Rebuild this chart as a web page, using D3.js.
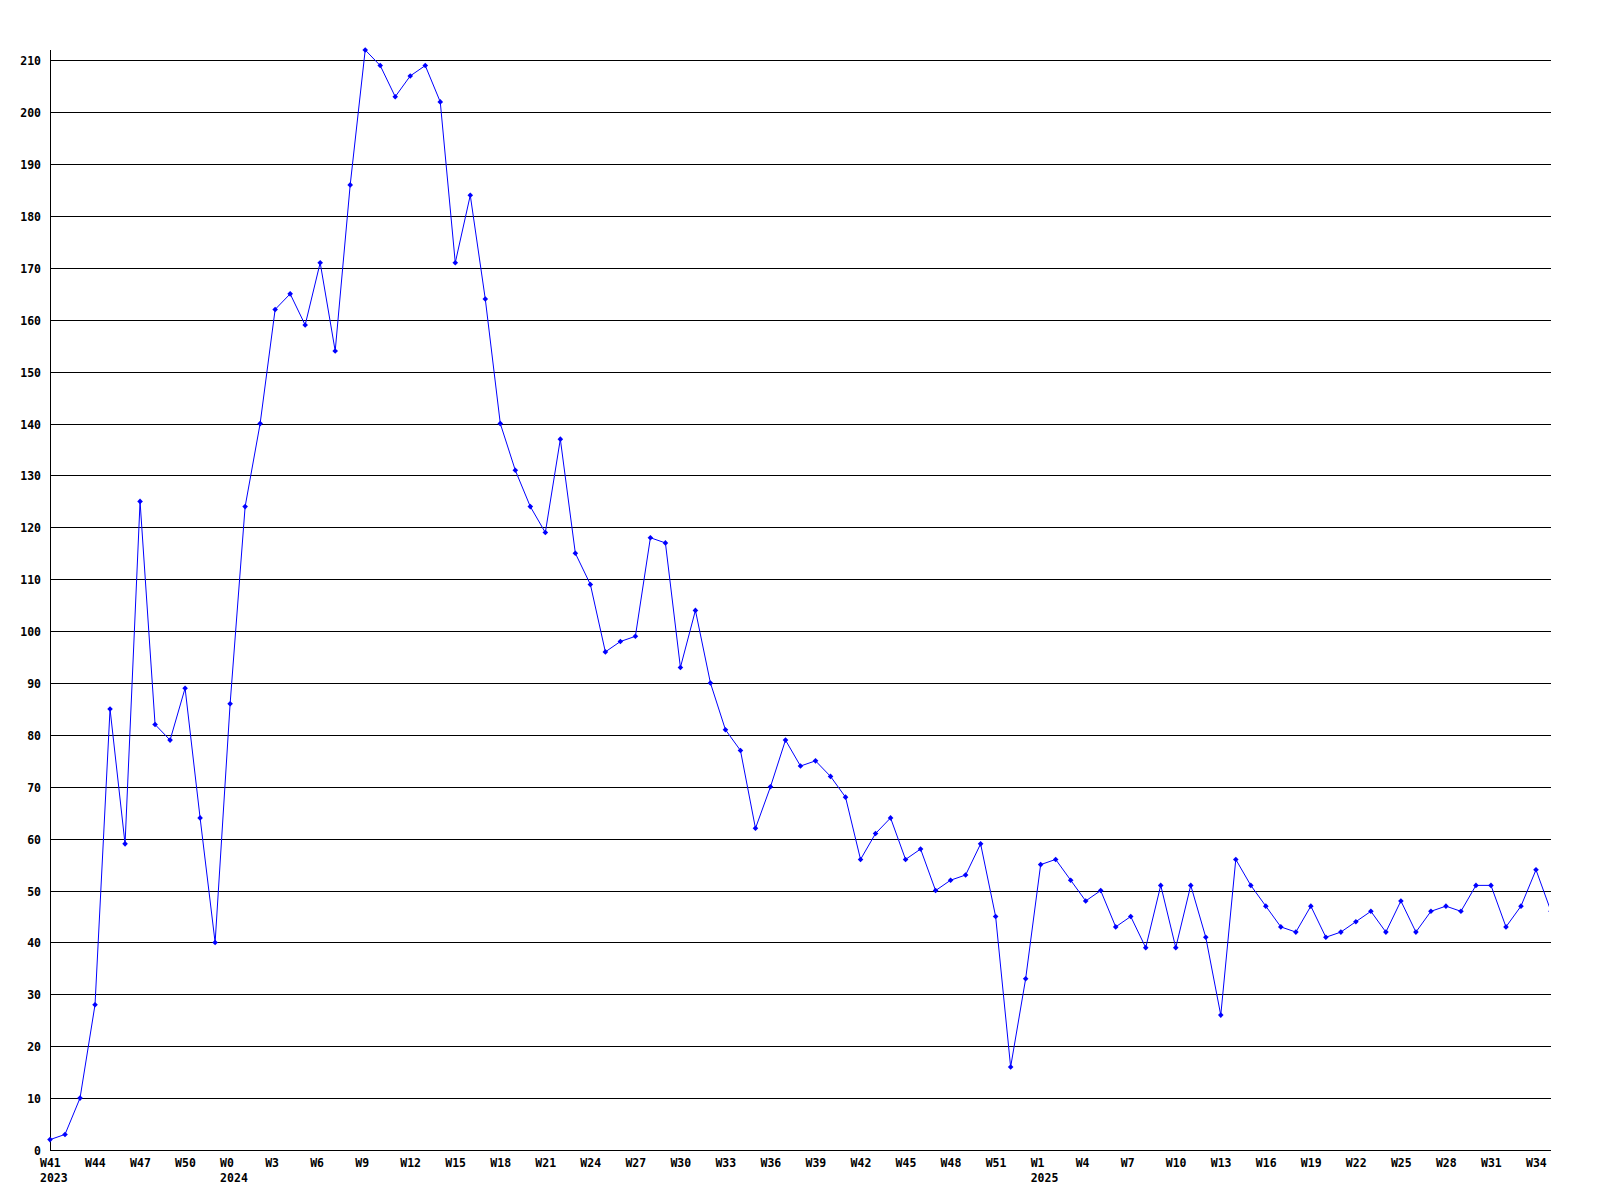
<!DOCTYPE html>
<html>
<head>
<meta charset="utf-8">
<script src="https://cdn.jsdelivr.net/npm/d3@7"></script>
<style>
  html, body { margin: 0; padding: 0; background: #fff; }
  svg { display: block; }
  text { font-family: "DejaVu Sans Mono", "Liberation Mono", monospace; font-weight: bold; font-size: 11.5px; fill: #000; }
</style>
</head>
<body>
<svg id="chart" width="1600" height="1200"></svg>
<script>
// ---- data ----
const categories = [
  "2023 W41","2023 W42","2023 W43","2023 W44","2023 W45","2023 W46","2023 W47","2023 W48","2023 W49","2023 W50","2023 W51","2023 W52",
  "2024 W0","2024 W1","2024 W2","2024 W3","2024 W4","2024 W5","2024 W6","2024 W7","2024 W8","2024 W9","2024 W10","2024 W11","2024 W12",
  "2024 W13","2024 W14","2024 W15","2024 W16","2024 W17","2024 W18","2024 W19","2024 W20","2024 W21","2024 W22","2024 W23","2024 W24",
  "2024 W25","2024 W26","2024 W27","2024 W28","2024 W29","2024 W30","2024 W31","2024 W32","2024 W33","2024 W34","2024 W35","2024 W36",
  "2024 W37","2024 W38","2024 W39","2024 W40","2024 W41","2024 W42","2024 W43","2024 W44","2024 W45","2024 W46","2024 W47","2024 W48",
  "2024 W49","2024 W50","2024 W51","2024 W52",
  "2025 W0","2025 W1","2025 W2","2025 W3","2025 W4","2025 W5","2025 W6","2025 W7","2025 W8","2025 W9","2025 W10","2025 W11","2025 W12",
  "2025 W13","2025 W14","2025 W15","2025 W16","2025 W17","2025 W18","2025 W19","2025 W20","2025 W21","2025 W22","2025 W23","2025 W24",
  "2025 W25","2025 W26","2025 W27","2025 W28","2025 W29","2025 W30","2025 W31","2025 W32","2025 W33","2025 W34","2025 W35"
];
const values = [
  2,3,10,28,85,59,125,82,79,89,
  64,40,86,124,140,162,165,159,171,154,
  186,212,209,203,207,209,202,171,184,164,
  140,131,124,119,137,115,109,96,98,99,
  118,117,93,104,90,81,77,62,70,79,
  74,75,72,68,56,61,64,56,58,50,
  52,53,59,45,16,33,55,56,52,48,
  50,43,45,39,51,39,51,41,26,56,
  51,47,43,42,47,41,42,44,46,42,
  48,42,46,47,46,51,51,43,47,54,
  46
];
const xTickCategories = [
  "2023 W41","2023 W44","2023 W47","2023 W50",
  "2024 W0","2024 W3","2024 W6","2024 W9","2024 W12","2024 W15","2024 W18","2024 W21","2024 W24","2024 W27",
  "2024 W30","2024 W33","2024 W36","2024 W39","2024 W42","2024 W45","2024 W48","2024 W51",
  "2025 W1","2025 W4","2025 W7","2025 W10","2025 W13","2025 W16","2025 W19","2025 W22","2025 W25","2025 W28","2025 W31","2025 W34"
];
const xTickLabels = [
  "W41","W44","W47","W50",
  "W0","W3","W6","W9","W12","W15","W18","W21","W24","W27",
  "W30","W33","W36","W39","W42","W45","W48","W51",
  "W1","W4","W7","W10","W13","W16","W19","W22","W25","W28","W31","W34"
];
const yearCategories = ["2023 W41","2024 W0","2025 W1"];
const yearLabels = ["2023","2024","2025"];
const yTicks = [0,10,20,30,40,50,60,70,80,90,100,110,120,130,140,150,160,170,180,190,200,210];

// ---- layout ----
const mLeft = 50, mRight = 1551, mTop = 50, mBottom = 1150;
const svg = d3.select("#chart");

const x = d3.scalePoint().domain(categories).range([mLeft, mRight]);
const y = d3.scaleLinear().domain([0, 212]).range([mBottom, mTop]);

// gridlines
svg.append("g")
  .selectAll("line")
  .data(yTicks.filter(d => d > 0))
  .join("line")
  .attr("x1", mLeft).attr("x2", mRight)
  .attr("y1", d => Math.round(y(d)) + 0.5).attr("y2", d => Math.round(y(d)) + 0.5)
  .attr("stroke", "#000").attr("stroke-width", 1);

// axes lines
svg.append("line")
  .attr("x1", mLeft + 0.5).attr("x2", mLeft + 0.5)
  .attr("y1", mTop).attr("y2", mBottom + 0.5)
  .attr("stroke", "#000");
svg.append("line")
  .attr("x1", mLeft).attr("x2", mRight)
  .attr("y1", mBottom + 0.5).attr("y2", mBottom + 0.5)
  .attr("stroke", "#000");

// y labels
svg.append("g")
  .selectAll("text")
  .data(yTicks)
  .join("text")
  .attr("x", 41)
  .attr("y", d => Math.round(y(d)) + 4.5)
  .attr("text-anchor", "end")
  .text(d => d);

// x labels
svg.append("g")
  .selectAll("text")
  .data(xTickCategories)
  .join("text")
  .attr("x", d => x(d) - 10)
  .attr("y", 1167)
  .attr("text-anchor", "start")
  .text((d, i) => xTickLabels[i]);

svg.append("g")
  .selectAll("text")
  .data(yearCategories)
  .join("text")
  .attr("x", d => x(d) - 10)
  .attr("y", 1182)
  .attr("text-anchor", "start")
  .text((d, i) => yearLabels[i]);

// clip
svg.append("defs").append("clipPath").attr("id", "plot")
  .append("rect").attr("x", mLeft - 3).attr("y", 0).attr("width", mRight - mLeft + 1).attr("height", 1200);

const pts = categories.map((c, i) => ({ c, v: values[i] }));

const g = svg.append("g").attr("clip-path", "url(#plot)");
g.append("path")
  .datum(pts)
  .attr("fill", "none")
  .attr("stroke", "#0000ff")
  .attr("stroke-width", 1)
  .attr("d", d3.line().x(d => x(d.c)).y(d => y(d.v)));

g.selectAll("path.mk")
  .data(pts)
  .join("path")
  .attr("class", "mk")
  .attr("transform", d => `translate(${x(d.c)},${y(d.v)})`)
  .attr("d", "M0,-2.8L2.8,0L0,2.8L-2.8,0Z")
  .attr("fill", "#0000ff");
</script>
</body>
</html>
